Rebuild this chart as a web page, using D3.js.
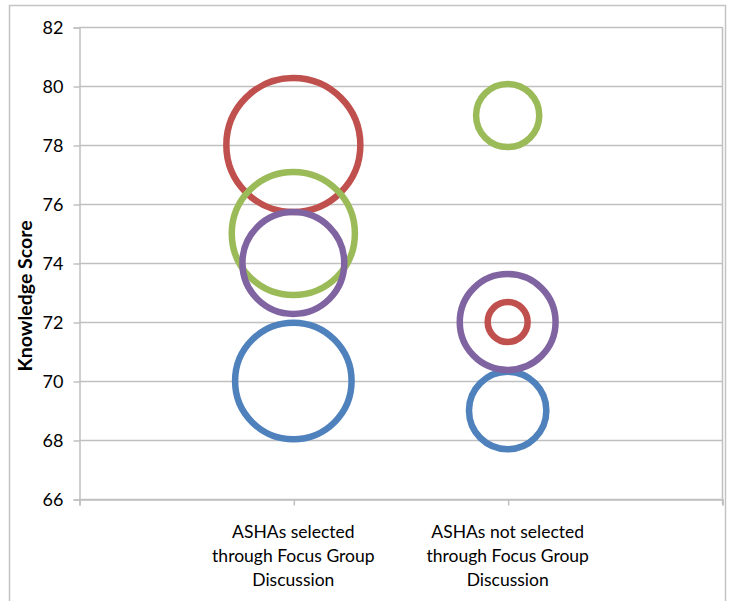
<!DOCTYPE html>
<html>
<head>
<meta charset="utf-8">
<script src="https://cdn.jsdelivr.net/npm/d3@7"></script>
<style>
  html, body { margin: 0; padding: 0; background: #fff; }
  svg { display: block; }
  text { font-family: Lato, "Liberation Sans", sans-serif; fill: #000; }
</style>
</head>
<body>
<svg id="chart" width="732" height="601"></svg>
<script>
// Category positions on the bubble x-axis and their wrapped labels
const categories = [1, 2];
const categoryLabels = [
  ["ASHAs selected", "through Focus Group", "Discussion"],
  ["ASHAs not selected", "through Focus Group", "Discussion"]
];
const yTicks = [66, 68, 70, 72, 74, 76, 78, 80, 82];

// Knowledge score (y) and bubble size per series, one value per category
const blueScores   = [70, 69];
const blueSizes    = [34, 15];
const redScores    = [78, 72];
const redSizes     = [45, 4];
const greenScores  = [75, 79];
const greenSizes   = [38, 10];
const purpleScores = [74, 72];
const purpleSizes  = [26, 23];

const seriesColors = ["#4F81BD", "#C0504D", "#9BBB59", "#8064A2"];

const series = [
  { scores: blueScores,   sizes: blueSizes,   color: seriesColors[0] },
  { scores: redScores,    sizes: redSizes,    color: seriesColors[1] },
  { scores: greenScores,  sizes: greenSizes,  color: seriesColors[2] },
  { scores: purpleScores, sizes: purpleSizes, color: seriesColors[3] }
];

const svg = d3.select("#chart");
const plotLeft = 79, plotRight = 722, plotTop = 27, plotBottom = 499;

const x = d3.scaleLinear().domain([0, 3]).range([plotLeft, plotRight]);
const y = d3.scaleLinear().domain([66, 82]).range([plotBottom, plotTop]);
const r = d3.scaleSqrt().domain([0, 45]).range([0, 67]);

// Outer chart frame
svg.append("rect")
  .attr("x", 9.5).attr("y", 5.5)
  .attr("width", 716).attr("height", 620)
  .attr("fill", "none").attr("stroke", "#c4c4c4").attr("stroke-width", 1.5);

// Horizontal gridlines
svg.append("g")
  .selectAll("line")
  .data(yTicks)
  .join("line")
  .attr("x1", plotLeft).attr("x2", plotRight)
  .attr("y1", d => Math.round(y(d)) + 0.5).attr("y2", d => Math.round(y(d)) + 0.5)
  .attr("stroke", "#c0c0c0").attr("stroke-width", 1.5);

// Right edge of the plot
svg.append("line")
  .attr("x1", plotRight + 0.5).attr("x2", plotRight + 0.5)
  .attr("y1", plotTop).attr("y2", plotBottom + 5)
  .attr("stroke", "#c0c0c0").attr("stroke-width", 1.5);

// Y axis
const yAxis = d3.axisLeft(y).tickValues(yTicks).tickSize(6).tickPadding(10);
const gy = svg.append("g").attr("transform", `translate(${plotLeft + 0.5},0.5)`).call(yAxis);
gy.select(".domain").attr("stroke", "#c0c0c0").attr("stroke-width", 1.5);
gy.selectAll(".tick line").attr("stroke", "#c0c0c0").attr("stroke-width", 1.5);
gy.selectAll(".tick text")
  .style("font-family", "Lato, 'Liberation Sans', sans-serif")
  .attr("font-size", 18).attr("fill", "#000");

// X axis (ticks only; labels are the wrapped category names)
const xAxis = d3.axisBottom(x).tickValues([0, 1, 2, 3]).tickSize(6).tickFormat("");
const gx = svg.append("g").attr("transform", `translate(0.5,${plotBottom + 0.5})`).call(xAxis);
gx.select(".domain").attr("stroke", "#c0c0c0").attr("stroke-width", 1.5);
gx.selectAll(".tick line").attr("stroke", "#c0c0c0").attr("stroke-width", 1.5);

// Category labels
svg.append("g")
  .selectAll("text")
  .data(categories)
  .join("text")
  .attr("text-anchor", "middle")
  .attr("font-size", 17.5)
  .each(function (d, i) {
    d3.select(this).selectAll("tspan")
      .data(categoryLabels[i])
      .join("tspan")
      .attr("x", x(d))
      .attr("y", (t, j) => 538 + j * 24)
      .text(t => t);
  });

// Y axis title
svg.append("text")
  .attr("transform", "translate(32,296) rotate(-90)")
  .attr("text-anchor", "middle")
  .attr("font-size", 19.5)
  .attr("font-weight", "bold")
  .text("Knowledge Score");

// Bubbles, drawn as outlined circles series by series
const bubbles = svg.append("g");
series.forEach(s => {
  bubbles.append("g")
    .selectAll("circle")
    .data(categories.map((c, i) => ({ c, score: s.scores[i], size: s.sizes[i] })))
    .join("circle")
    .attr("cx", d => x(d.c))
    .attr("cy", d => y(d.score))
    .attr("r", d => r(d.size))
    .attr("fill", "none")
    .attr("stroke", s.color)
    .attr("stroke-width", 6.5);
});
</script>
</body>
</html>
